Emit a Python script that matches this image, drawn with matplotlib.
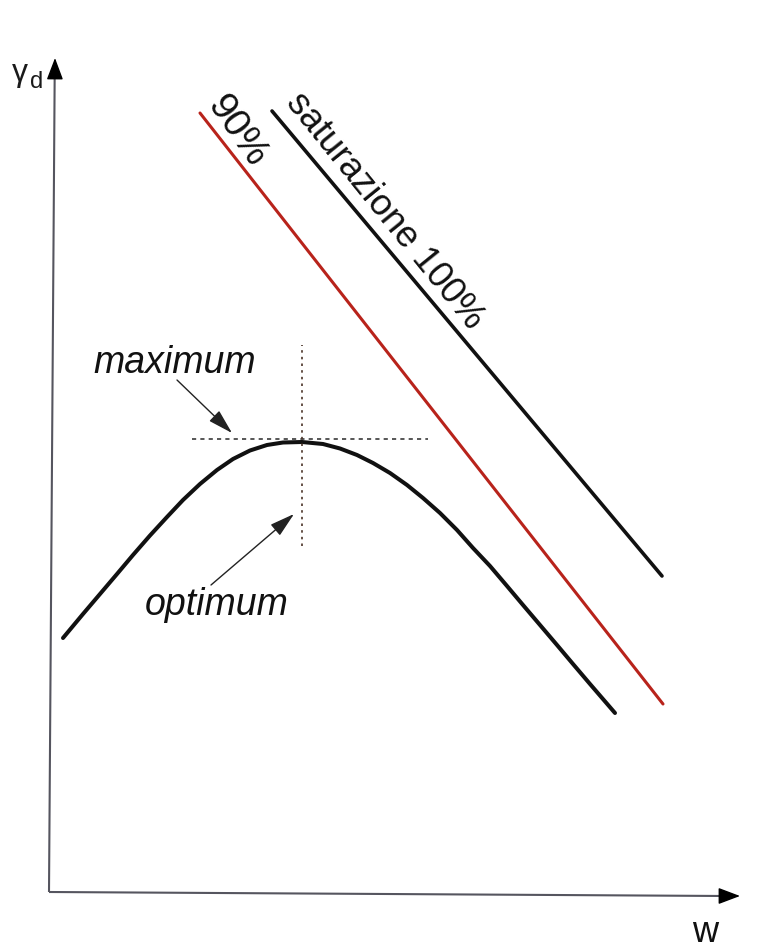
import matplotlib
matplotlib.use("Agg")
import matplotlib.pyplot as plt

plt.rcParams["font.family"] = ["Liberation Sans", "DejaVu Sans"]

# Compaction curve: water content w vs dry unit weight gamma_d (arbitrary units)
w_curve = [14, 34, 51, 68, 84, 101, 118, 134, 151, 168, 184, 201, 218, 234, 253,
           274, 291, 308, 324, 341, 358, 374, 391, 408, 424, 441, 458, 474, 491,
           508, 524, 541, 566]
gd_curve = [254, 278, 298, 318, 337, 356.5, 375, 392, 408, 422, 433, 441.5, 447,
            449.5, 450, 448, 443.5, 437, 429, 419, 407, 394, 379, 362, 344, 326,
            306, 287, 267, 247, 228, 208, 179]

# Zero-air-voids line (100 % saturation) and 90 % saturation line
w_sat = [223, 613]
gd_sat = [781, 316]
w_90 = [151, 614]
gd_90 = [779, 188]

# Optimum water content and maximum dry unit weight
w_opt = 253
gd_max = 453
opt_line_span = (346, 547)
max_line_span = (143, 379)

# Axis extents
x_axis_end = (691, -4)
y_axis_end = (6, 834)

fig = plt.figure(figsize=(7.71, 9.51), dpi=100)
ax = fig.add_axes([0, 0, 1, 1])
ax.set_xlim(-49, 722)
ax.set_ylim(-59, 892)
ax.axis("off")

axis_col = "#55555f"
# axes with arrow heads
ax.plot([0, x_axis_end[0] - 16], [0, x_axis_end[1]], color=axis_col, lw=1.5,
        solid_capstyle="butt")
ax.plot([0, y_axis_end[0] - 0.3], [0, y_axis_end[1] - 14], color=axis_col, lw=1.5,
        solid_capstyle="butt")
head = dict(arrowstyle="-|>,head_length=0.45,head_width=0.17", color="black",
            lw=1, mutation_scale=30, shrinkA=0, shrinkB=0)
ax.annotate("", xy=x_axis_end, xytext=(x_axis_end[0] - 20, x_axis_end[1]),
            arrowprops=head)
ax.annotate("", xy=y_axis_end, xytext=(y_axis_end[0] - 0.1, y_axis_end[1] - 20),
            arrowprops=head)

ax.text(-37, 834, "γ", fontsize=23, ha="left", va="top", color="#1a1a1a")
ax.text(-19, 804, "d", fontsize=17, ha="left", va="baseline", color="#1a1a1a")
ax.text(656, -50, "w", fontsize=26, ha="center", va="baseline", color="#111111")

# saturation lines
ax.plot(w_sat, gd_sat, color="#111111", lw=2.6, solid_capstyle="round")
ax.plot(w_90, gd_90, color="#b8231b", lw=2.2, solid_capstyle="round")
ax.text(236, 789, "saturazione 100%", fontsize=26.5, rotation=-51,
        rotation_mode="anchor", ha="left", va="baseline", color="#111111")
ax.text(157, 787, "90%", fontsize=28, rotation=-55,
        rotation_mode="anchor", ha="left", va="baseline", color="#111111")

# compaction curve
ax.plot(w_curve, gd_curve, color="#111111", lw=2.9, solid_capstyle="round",
        solid_joinstyle="round")

# dotted guides through the peak
ax.plot(max_line_span, [gd_max, gd_max], color="#3a3a3a", lw=1.2,
        linestyle=(0, (2.5, 2.5)))
ax.plot([w_opt, w_opt], opt_line_span, color="#4a3428", lw=1.2,
        linestyle=(0, (1.5, 2.5)))

arrow = dict(arrowstyle="-|>,head_length=0.7,head_width=0.2", color="#222222",
             lw=1.0, mutation_scale=22, shrinkA=0, shrinkB=0)
ax.annotate("", xy=(183, 459), xytext=(128, 512), arrowprops=arrow)
ax.annotate("", xy=(245, 378), xytext=(162, 307), arrowprops=arrow)

ax.text(44, 519, "maximum", fontsize=27, style="italic", ha="left",
        va="baseline", color="#111111")
ax.text(96, 277, "optimum", fontsize=27, style="italic", ha="left",
        va="baseline", color="#111111")

fig.savefig("out.png", dpi=100, facecolor="white")
